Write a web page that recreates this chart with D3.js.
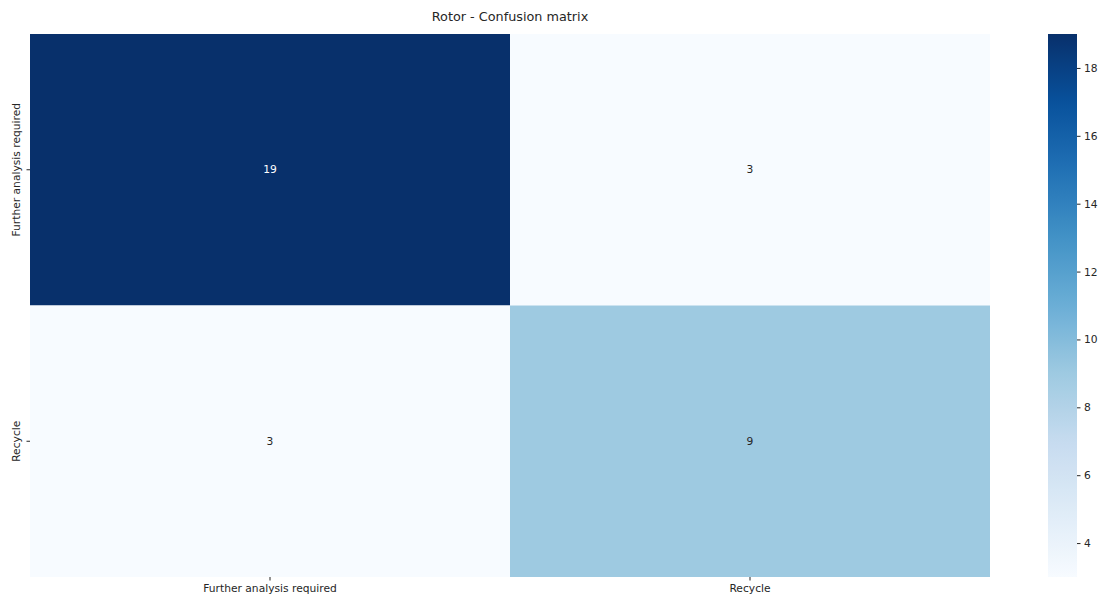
<!DOCTYPE html>
<html>
<head>
<meta charset="utf-8">
<script src="https://cdn.jsdelivr.net/npm/d3@7"></script>
<style>
  html, body { margin: 0; padding: 0; background: #fff; }
  svg { display: block; font-family: "DejaVu Sans", sans-serif; }
</style>
</head>
<body>
<svg id="chart" width="1101" height="594"></svg>
<script>
// Confusion matrix for the rotor classifier
const classes = ["Further analysis required", "Recycle"];
const counts = [
  [19, 3],
  [3, 9]
];
const colorbarTicks = [4, 6, 8, 10, 12, 14, 16, 18];
const chartTitle = "Rotor - Confusion matrix";

// Matplotlib "Blues" colormap stops
const bluesStops = ["#f7fbff", "#deebf7", "#c6dbef", "#9ecae1", "#6baed6",
                    "#4292c6", "#2171b5", "#08519c", "#08306b"];

const svg = d3.select("#chart");
const plot = { left: 30, top: 34, right: 990, bottom: 577 };
const cbar = { left: 1048, right: 1077, top: 34, bottom: 577 };
const fs = 10.7;

const flat = counts.flat();
const vmin = d3.min(flat), vmax = d3.max(flat);
const blues = d3.scaleLinear()
  .domain(d3.range(bluesStops.length).map(i => i / (bluesStops.length - 1)))
  .range(bluesStops)
  .interpolate(d3.interpolateRgb);
const norm = d3.scaleLinear().domain([vmin, vmax]).range([0, 1]).clamp(true);
const color = v => blues(norm(v));

const x = d3.scaleBand().domain(classes).range([plot.left, plot.right]);
const y = d3.scaleBand().domain(classes).range([plot.top, plot.bottom]);

// Cells
const cells = [];
counts.forEach((row, i) => row.forEach((v, j) => cells.push({ r: classes[i], c: classes[j], v })));

svg.append("g").selectAll("rect").data(cells).join("rect")
  .attr("x", d => x(d.c))
  .attr("y", d => y(d.r))
  .attr("width", x.bandwidth())
  .attr("height", y.bandwidth())
  .attr("fill", d => color(d.v));

svg.append("g").selectAll("text").data(cells).join("text")
  .attr("x", d => x(d.c) + x.bandwidth() / 2)
  .attr("y", d => y(d.r) + y.bandwidth() / 2)
  .attr("text-anchor", "middle")
  .attr("dominant-baseline", "central")
  .attr("font-size", fs)
  .attr("fill", d => norm(d.v) > 0.6 ? "#ffffff" : "#262626")
  .text(d => d.v);

// Axes
const xAxis = d3.axisBottom(x).tickSize(3.5).tickPadding(3.5);
const gx = svg.append("g").attr("transform", `translate(0,${plot.bottom})`).call(xAxis);
gx.select(".domain").remove();
gx.selectAll("text").attr("font-size", fs).attr("fill", "#262626").attr("font-family", "DejaVu Sans, sans-serif");
gx.selectAll("line").attr("stroke", "#262626");

const yAxis = d3.axisLeft(y).tickSize(3.5).tickPadding(3.5);
const gy = svg.append("g").attr("transform", `translate(${plot.left},0)`).call(yAxis);
gy.select(".domain").remove();
gy.selectAll("line").attr("stroke", "#262626");
gy.selectAll("text")
  .attr("font-size", fs).attr("fill", "#262626").attr("font-family", "DejaVu Sans, sans-serif")
  .attr("text-anchor", "middle")
  .attr("dominant-baseline", "auto")
  .attr("dy", null)
  .attr("x", null)
  .attr("transform", "translate(-10,0) rotate(-90)");

// Title
svg.append("text")
  .attr("x", (plot.left + plot.right) / 2)
  .attr("y", 21)
  .attr("text-anchor", "middle")
  .attr("font-size", 12.8)
  .attr("fill", "#262626")
  .text(chartTitle);

// Colorbar
const defs = svg.append("defs");
const grad = defs.append("linearGradient").attr("id", "cbgrad")
  .attr("x1", "0").attr("y1", "1").attr("x2", "0").attr("y2", "0");
d3.range(0, 1.0001, 0.02).forEach(t => {
  grad.append("stop").attr("offset", t).attr("stop-color", blues(t));
});
svg.append("rect")
  .attr("x", cbar.left).attr("y", cbar.top)
  .attr("width", cbar.right - cbar.left).attr("height", cbar.bottom - cbar.top)
  .attr("fill", "url(#cbgrad)");

const cy = d3.scaleLinear().domain([vmin, vmax]).range([cbar.bottom, cbar.top]);
const gc = svg.append("g").attr("transform", `translate(${cbar.right},0)`)
  .call(d3.axisRight(cy).tickValues(colorbarTicks).tickSize(3.5).tickPadding(3.5));
gc.select(".domain").remove();
gc.selectAll("line").attr("stroke", "#262626");
gc.selectAll("text").attr("font-size", fs).attr("fill", "#262626").attr("font-family", "DejaVu Sans, sans-serif");
</script>
</body>
</html>
